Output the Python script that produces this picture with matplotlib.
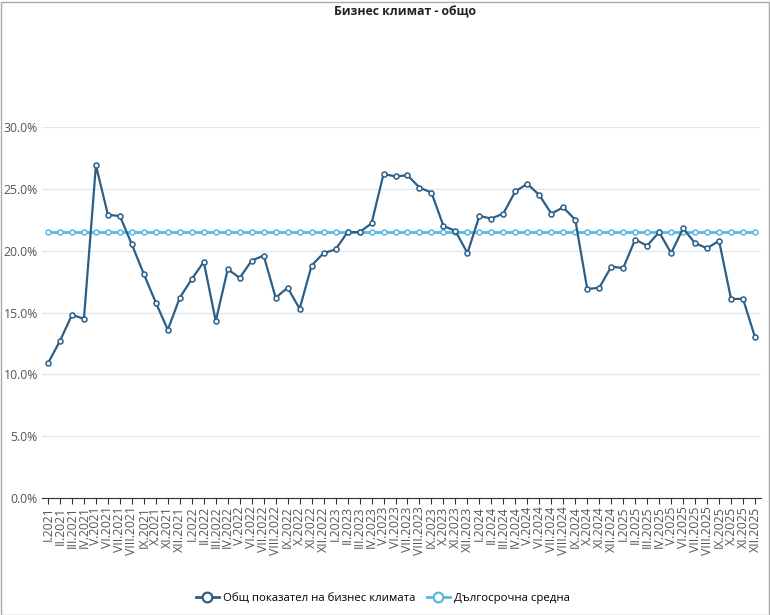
import matplotlib
matplotlib.use("Agg")
import matplotlib.pyplot as plt
from matplotlib.patches import Rectangle
from matplotlib.ticker import FuncFormatter
from matplotlib.lines import Line2D

plt.rcParams['font.family'] = ['Open Sans', 'DejaVu Sans']

months = ["I", "II", "III", "IV", "V", "VI", "VII", "VIII", "IX", "X", "XI", "XII"]
years = [2021, 2022, 2023, 2024, 2025]
categories = [f"{m}.{y}" for y in years for m in months]

overall = [10.9, 12.7, 14.8, 14.5, 26.9, 22.9, 22.8, 20.5, 18.1, 15.8, 13.6, 16.2,
           17.7, 19.1, 14.3, 18.5, 17.8, 19.2, 19.6, 16.2, 17.0, 15.3, 18.8, 19.8,
           20.1, 21.5, 21.5, 22.2, 26.2, 26.0, 26.1, 25.1, 24.7, 22.0, 21.6, 19.8,
           22.8, 22.6, 23.0, 24.8, 25.4, 24.5, 23.0, 23.5, 22.5, 16.9, 17.0, 18.7,
           18.6, 20.9, 20.4, 21.5, 19.8, 21.8, 20.6, 20.2, 20.8, 16.1, 16.1, 13.0]
long_term = [21.5] * len(categories)

series_names = ["Общ показател на бизнес климата", "Дългосрочна средна"]
title = "Бизнес климат - общо"

c_main = "#2b5f88"
c_avg = "#5ab8e3"

W, H = 770, 615
fig = plt.figure(figsize=(W / 100, H / 100), dpi=100)
ax = fig.add_axes([42 / W, 1 - 498 / H, (761 - 42) / W, (498 - 127) / H])

x = list(range(len(categories)))
ax.plot(x, long_term, color=c_avg, lw=2, marker='o', ms=3.6, mfc='white',
        mec=c_avg, mew=1.1, zorder=3)
ax.plot(x, overall, color=c_main, lw=1.6, marker='o', ms=3.6, mfc='white',
        mec=c_main, mew=1.1, zorder=4)

ax.set_xlim(-0.5, len(categories) - 0.5)
ax.set_ylim(0, 30)
ax.set_yticks([0, 5, 10, 15, 20, 25, 30])
ax.yaxis.set_major_formatter(FuncFormatter(lambda v, p: f"{v:.1f}%"))
ax.set_xticks(x)
ax.set_xticklabels(categories, rotation=90, fontsize=8.8, color="#555555")
ax.tick_params(axis='y', length=0, labelsize=8.8, labelcolor="#555555", pad=3)
ax.tick_params(axis='x', length=4, width=0.8, color="#333333", pad=2)
ax.grid(axis='y', color="#e3e6ee", lw=1)
ax.set_axisbelow(True)
for s in ['top', 'right', 'left']:
    ax.spines[s].set_visible(False)
ax.spines['bottom'].set_color("#333333")
ax.spines['bottom'].set_linewidth(0.8)
ax.spines['bottom'].set_zorder(5)

fig.text(405 / W, 1 - 12 / H, title, ha='center', va='center', fontsize=8.8,
         fontweight='bold', color="#222222")

handles = [
    Line2D([0], [0], color=c_main, lw=2, marker='o', ms=7, mfc='white', mec=c_main, mew=1.6),
    Line2D([0], [0], color=c_avg, lw=2, marker='o', ms=7, mfc='white', mec=c_avg, mew=1.6),
]
fig.legend(handles, series_names, loc='center', bbox_to_anchor=(383 / W, 1 - 598 / H),
           ncol=2, frameon=False, fontsize=8.2, handlelength=2.0, columnspacing=1.0,
           handletextpad=0.4)

fig.patches.append(Rectangle((0.5 / W, 0.5 / H), (W - 2) / W, (H - 2) / H,
                             transform=fig.transFigure, fill=False,
                             edgecolor="#aaaaaa", lw=1))

fig.savefig("out.png", dpi=100)
